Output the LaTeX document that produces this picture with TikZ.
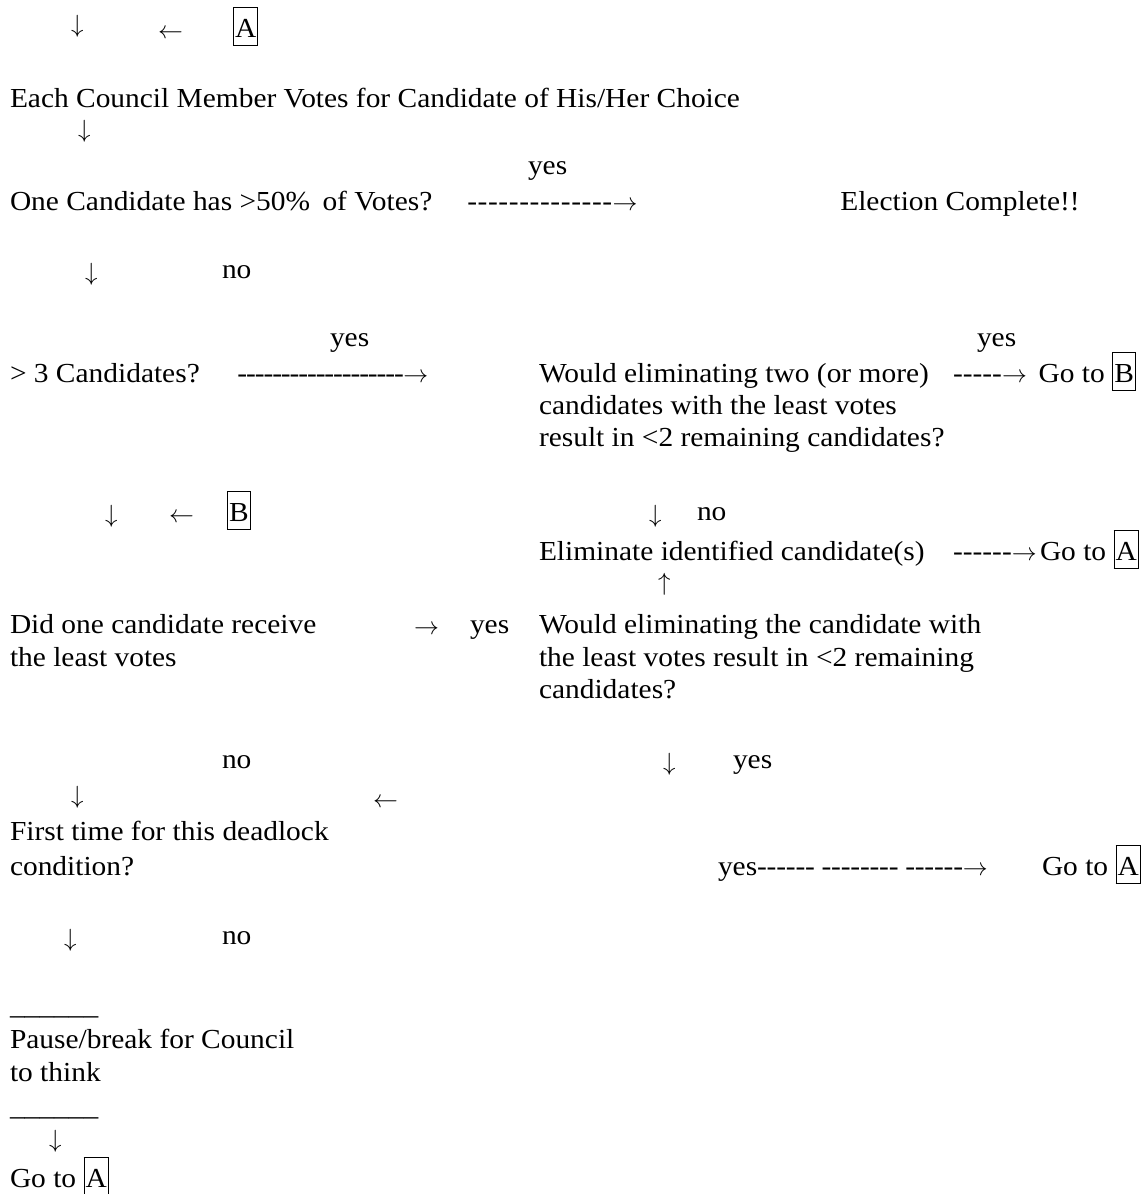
\documentclass[tikz,border=0pt]{standalone}
\usepackage{fontspec}
\setmainfont{Liberation Serif}[FakeStretch=1.07]
\newcommand\lbox[1]{{\setlength\fboxsep{0.8pt}\setlength\fboxrule{1.3pt}\fbox{\rule[-7pt]{0pt}{35pt}#1}}}
% n hyphens, each in a box of the given pitch
\newcommand\dashes[2]{\foreach \i in {1,...,#1}{\makebox[#2][c]{-}}}
\newcommand\ra{$\rightarrow$}
\tikzset{
  t/.style={anchor=base west, inner sep=0pt, outer sep=0pt, font=\fontsize{27.5}{33}\selectfont},
  te/.style={t, anchor=base east},
  tc/.style={t, anchor=base},
}
\begin{document}
\begin{tikzpicture}[x=1pt,y=-1pt]
\useasboundingbox (0,0) rectangle (1144,1194);
% row 1
\node[t] (a1) at (71,32) {$\downarrow$};
\node[t] (a2) at (158,38) {$\leftarrow$};
\node[t] (boxA1) at (233,37) {\lbox{A}};
% row 2
\node[t] (vote) at (10,107) {Each Council Member Votes for Candidate of His/Her Choice};
\node[t] (a3) at (78,137) {$\downarrow$};
% row 3
\node[t] (yes1) at (528,174) {yes};
\node[t] (q50) at (10,210) {One Candidate has >50\%\hspace{0.45em}of Votes?};
\node[t] (d1) at (467,210) {\dashes{14}{10.4pt}\ra};
\node[tc] (done) at (960,210) {Election Complete!!};
\node[t] (a4) at (85,280) {$\downarrow$};
\node[t] (no1) at (222,278) {no};
% row 4
\node[t] (yes2) at (330,346) {yes};
\node[t] (yes3) at (977,346) {yes};
\node[t] (q3) at (10,382) {> 3 Candidates?};
\node[t] (d2) at (238,382) {\dashes{19}{8.7pt}\ra};
\node[t] (qtwo1) at (539,382) {Would eliminating two (or more)};
\node[t] (qtwo2) at (539,414) {candidates with the least votes};
\node[t] (qtwo3) at (539,446) {result in <2 remaining candidates?};
\node[t] (d4) at (953,382) {\dashes{5}{9.8pt}\ra};
\node[te] (gob) at (1136,382) {Go to \lbox{B}};
% row 5
\node[t] (a5) at (105,522) {$\downarrow$};
\node[t] (a6) at (169,522) {$\leftarrow$};
\node[t] (boxB) at (227,521) {\lbox{B}};
\node[t] (a7) at (649,522) {$\downarrow$};
\node[t] (no2) at (697,520) {no};
\node[t] (elim) at (539,560) {Eliminate identified candidate(s)};
\node[t] (d5) at (953,560) {\dashes{6}{9.8pt}\ra};
\node[te] (goa1) at (1139,560) {Go to \lbox{A}};
\node[t] (a8) at (658,590) {$\uparrow$};
% row 6
\node[t] (least1) at (10,633) {Did one candidate receive};
\node[t] (least2) at (10,666) {the least votes};
\node[t] (a9) at (414,634) {$\rightarrow$};
\node[t] (yes4) at (470,633) {yes};
\node[t] (qone1) at (539,633) {Would eliminating the candidate with};
\node[t] (qone2) at (539,666) {the least votes result in <2 remaining};
\node[t] (qone3) at (539,698) {candidates?};
% row 7
\node[t] (no3) at (222,768) {no};
\node[t] (a10) at (663,770) {$\downarrow$};
\node[t] (yes5) at (733,768) {yes};
\node[t] (a11) at (71,803) {$\downarrow$};
\node[t] (a12) at (373,807) {$\leftarrow$};
\node[t] (first1) at (10,840) {First time for this deadlock};
\node[t] (first2) at (10,875) {condition?};
\node[t] (d3) at (718,875) {yes\dashes{6}{9.6pt}\hspace{0.25em}\dashes{8}{9.6pt}\hspace{0.25em}\dashes{6}{9.6pt}\ra};
\node[te] (goa2) at (1141,875) {Go to \lbox{A}};
\node[t] (a13) at (64,946) {$\downarrow$};
\node[t] (no4) at (222,944) {no};
% row 8
\node[t] (u1) at (10,1014) {\_\_\_\_\_\_};
\node[t] (pause1) at (10,1048) {Pause/break for Council};
\node[t] (pause2) at (10,1081) {to think};
\node[t] (u2) at (10,1115) {\_\_\_\_\_\_};
\node[t] (a14) at (49,1147) {$\downarrow$};
\node[t] (goa3) at (10,1187) {Go to \lbox{A}};
\end{tikzpicture}
\end{document}
